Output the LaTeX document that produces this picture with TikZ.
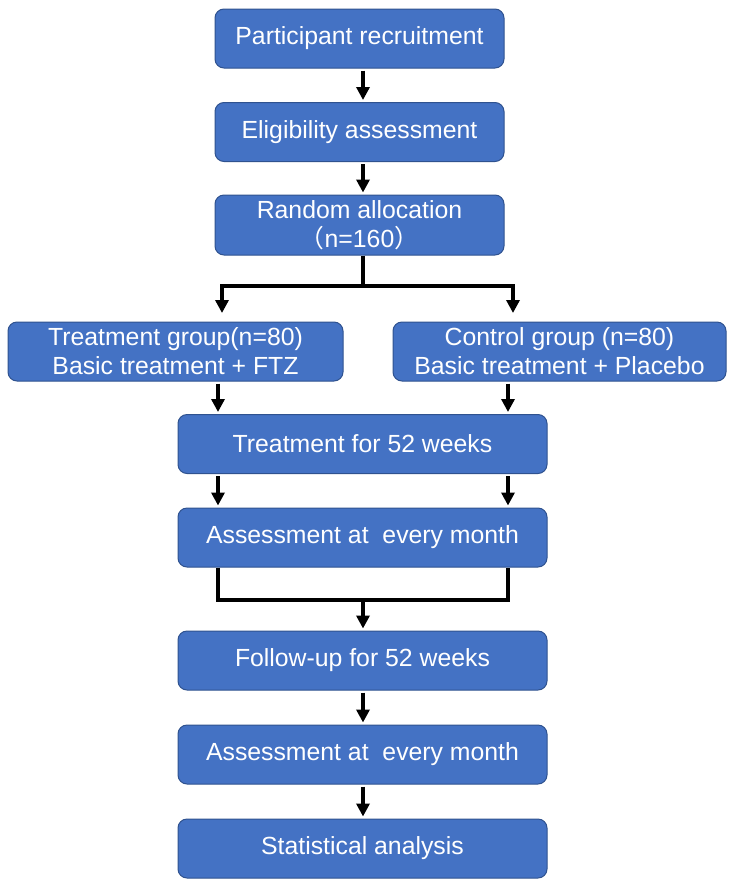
\documentclass[tikz,border=0pt]{standalone}
\usepackage{fontspec}
\setmainfont{Liberation Sans}
\newfontfamily\cjk{Noto Sans CJK SC}
\usetikzlibrary{arrows.meta}
\definecolor{boxfill}{HTML}{4472C4}
\definecolor{boxline}{HTML}{2F528F}
\begin{document}
\begin{tikzpicture}[x=1pt,y=-1pt,
  box/.style={draw=boxline, line width=1pt, fill=boxfill, rounded corners=9pt,
    text=white, inner sep=0pt, align=center,
    font=\fontsize{24.8}{29}\selectfont},
  conn/.style={line width=4pt, draw=black},
  arr/.style={conn, -{Triangle[length=13pt,width=13pt]}}]
\useasboundingbox (0,0) rectangle (735,887);
\node[box, minimum width=289pt, minimum height=59pt] (b1) at (359.5,38.5) {Participant recruitment};
\node[box, minimum width=289pt, minimum height=59pt] (b2) at (359.5,132) {Eligibility assessment};
\node[box, minimum width=289pt, minimum height=60pt] (b3) at (359.5,225) {Random allocation\\{\cjk （}n=160{\cjk ）}};
\node[box, minimum width=335pt, minimum height=59pt] (b4) at (175.5,351.5) {Treatment group(n=80)\\Basic treatment + FTZ};
\node[box, minimum width=333pt, minimum height=59pt] (b5) at (559.5,351.5) {Control group (n=80)\\Basic treatment + Placebo};
\node[box, minimum width=369pt, minimum height=59pt] (b6) at (362.5,444) {Treatment for 52 weeks};
\node[box, minimum width=369pt, minimum height=59pt] (b7) at (362.5,537.5) {Assessment at\ \ every month};
\node[box, minimum width=369pt, minimum height=59pt] (b8) at (362.5,660.5) {Follow-up for 52 weeks};
\node[box, minimum width=369pt, minimum height=59pt] (b9) at (362.5,754.5) {Assessment at\ \ every month};
\node[box, minimum width=369pt, minimum height=59pt] (b10) at (362.5,848.5) {Statistical analysis};
% coordinates
\coordinate (c3) at (363,255);
\coordinate (split) at (363,286);
\coordinate (sl) at (222,286);
\coordinate (sr) at (513,286);
\coordinate (tl) at (222,313);
\coordinate (tr) at (513,313);
\coordinate (xl) at (218,0);
\coordinate (xr) at (508,0);
\coordinate (jl) at (218,600);
\coordinate (jr) at (508,600);
\coordinate (jm) at (363,600);
% arrows
\draw[arr, shorten <=2pt, shorten >=2pt] (b1.south -| c3) -- (b2.north -| c3);
\draw[arr, shorten <=2pt, shorten >=2pt] (b2.south -| c3) -- (b3.north -| c3);
\draw[conn] (b3.south -| c3) -- (split);
\draw[conn, line cap=rect] (sl) -- (sr);
\draw[arr] (sl) -- (tl);
\draw[arr] (sr) -- (tr);
\draw[arr, shorten <=2pt, shorten >=2pt] (b4.south -| xl) -- (b6.north -| xl);
\draw[arr, shorten <=2pt, shorten >=2pt] (b5.south -| xr) -- (b6.north -| xr);
\draw[arr, shorten <=2pt, shorten >=2pt] (b6.south -| xl) -- (b7.north -| xl);
\draw[arr, shorten <=2pt, shorten >=2pt] (b6.south -| xr) -- (b7.north -| xr);
\draw[conn, line join=miter] (b7.south -| xl) -- (jl) -- (jr) -- (b7.south -| xr);
\draw[arr, shorten >=2pt] (jm) -- (b8.north -| jm);
\draw[arr, shorten <=2pt, shorten >=2pt] (b8.south -| c3) -- (b9.north -| c3);
\draw[arr, shorten <=2pt, shorten >=2pt] (b9.south -| c3) -- (b10.north -| c3);
\end{tikzpicture}
\end{document}
